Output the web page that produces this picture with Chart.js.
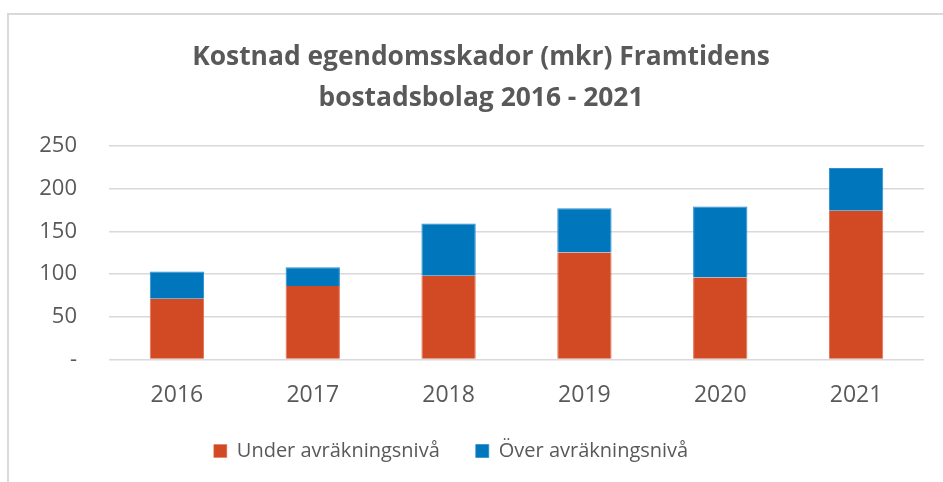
<!DOCTYPE html>
<html>
<head>
<meta charset="utf-8">
<script src="https://cdn.jsdelivr.net/npm/chart.js@4"></script>
<style>
  html, body { margin: 0; padding: 0; background: #fff; }
  #wrap { position: relative; width: 943px; height: 482px; overflow: hidden; }
  #frame { position: absolute; left: 7px; top: 13px; width: 950px; height: 480px; border: 2px solid #d9d9d9; box-sizing: border-box; }
  #c { position: absolute; left: 0; top: 0; }
</style>
</head>
<body>
<div id="wrap">
  <div id="frame"></div>
  <canvas id="c" width="943" height="482"></canvas>
</div>
<script>
const years = ['2016', '2017', '2018', '2019', '2020', '2021'];
const underLevel = [71, 86, 98, 125, 96, 174];
const overLevel = [32, 22, 61, 52, 83, 50];
const titleLines = ['Kostnad egendomsskador (mkr) Framtidens', 'bostadsbolag 2016 - 2021'];

const grey = '#595959';

// legend sits a bit left of the title in the original
const shiftLegend = {
    id: 'shiftLegend',
    afterLayout(chart) {
        chart.legend.left -= 30;
        chart.legend.right -= 30;
    }
};

new Chart(document.getElementById('c'), {
    type: 'bar',
    data: {
        labels: years,
        datasets: [
            {
                label: 'Under avräkningsnivå',
                data: underLevel,
                backgroundColor: '#d24a24',
                borderColor: '#e0704f',
                borderWidth: { left: 1, right: 1, top: 0, bottom: 0 },
                borderSkipped: false,
                barPercentage: 0.4,
                categoryPercentage: 1
            },
            {
                label: 'Över avräkningsnivå',
                data: overLevel,
                backgroundColor: '#0076bd',
                borderColor: '#2a8ed0',
                borderWidth: { left: 1, right: 1, top: 1, bottom: 0 },
                borderSkipped: false,
                barPercentage: 0.4,
                categoryPercentage: 1
            }
        ]
    },
    plugins: [shiftLegend],
    options: {
        responsive: false,
        animation: false,
        layout: { padding: { left: 38, right: 19, top: 37, bottom: 11 } },
        plugins: {
            title: {
                display: true,
                text: titleLines,
                color: grey,
                font: { family: 'Open Sans', size: 26.4, weight: 'bold', lineHeight: 1.55 },
                padding: { top: 0, bottom: 27 }
            },
            legend: {
                position: 'bottom',
                labels: {
                    color: grey,
                    font: { family: 'Open Sans', size: 20 },
                    boxWidth: 13,
                    boxHeight: 13,
                    padding: 36,
                    useBorderRadius: false
                }
            },
            tooltip: { enabled: false }
        },
        scales: {
            x: {
                stacked: true,
                afterFit: function(scale) { scale.height -= 18; },
                grid: { display: false },
                border: { display: false },
                ticks: { color: grey, font: { family: 'Open Sans', size: 23 }, padding: 14 }
            },
            y: {
                stacked: true,
                min: 0,
                max: 250,
                afterFit: function(scale) { scale.width = 71; },
                grid: { color: '#d9d9d9', lineWidth: 1.5, drawTicks: false },
                border: { display: false },
                ticks: {
                    stepSize: 50,
                    padding: 32,
                    color: grey,
                    font: { family: 'Open Sans', size: 22 },
                    callback: function(v) { return v === 0 ? '-' : v; }
                }
            }
        }
    }
});
</script>
</body>
</html>
